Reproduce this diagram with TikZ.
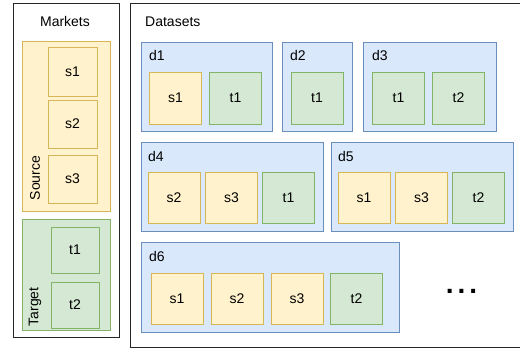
\documentclass[tikz,border=0pt]{standalone}
\usepackage{fontspec}
\setmainfont{Liberation Sans}
\definecolor{yfill}{HTML}{FFF2CC}
\definecolor{ydraw}{HTML}{D6B656}
\definecolor{gfill}{HTML}{D5E8D4}
\definecolor{gdraw}{HTML}{82B366}
\definecolor{bfill}{HTML}{DAE8FC}
\definecolor{bdraw}{HTML}{6C8EBF}
\begin{document}
\begin{tikzpicture}[x=1pt,y=-1pt,
  every node/.style={font=\fontsize{14}{16}\selectfont, inner sep=0pt},
  outerbox/.style={draw=black!85, line width=1pt, fill=white},
  srcbox/.style={draw=ydraw, fill=yfill, line width=1pt},
  tgtbox/.style={draw=gdraw, fill=gfill, line width=1pt},
  dsbox/.style={draw=bdraw, fill=bfill, line width=1pt},
  lbl/.style={anchor=west}]
\useasboundingbox (0,0) rectangle (520,348);
\clip (0,0) rectangle (520,348);
% Markets
\draw[outerbox] (13,3) rectangle (119,337);
\node (mk) at (65,21) {Markets};
\draw[srcbox] (22,41) rectangle (110,211);
\node[rotate=90] (src) at (35,178) {Source};
\node[srcbox, minimum width=49pt, minimum height=49pt] (ms1) at (72.5,71.5) {s1};
\node[srcbox, minimum width=49pt, minimum height=48pt] (ms2) at (72.5,124) {s2};
\node[srcbox, minimum width=49pt, minimum height=48pt] (ms3) at (72.5,179) {s3};
\draw[tgtbox] (22,219) rectangle (110,330);
\node[rotate=90] (tgt) at (35,307) {Target};
\node[tgtbox, minimum width=48pt, minimum height=46pt] (mt1) at (75,250) {t1};
\node[tgtbox, minimum width=48pt, minimum height=46pt] (mt2) at (75,305) {t2};
% Datasets
\draw[outerbox] (130,3) rectangle (540,347);
\node[lbl] (dsl) at (145,22) {Datasets};
% d1
\draw[dsbox] (141,42) rectangle (272,131);
\node[lbl] (d1) at (149,55) {d1};
\node[srcbox, minimum width=52pt, minimum height=52pt] (d1s1) at (175.5,98) {s1};
\node[tgtbox, minimum width=52pt, minimum height=52pt] (d1t1) at (235.5,98) {t1};
% d2
\draw[dsbox] (282,42) rectangle (352,131);
\node[lbl] (d2) at (290,55) {d2};
\node[tgtbox, minimum width=52pt, minimum height=52pt] (d2t1) at (317,98) {t1};
% d3
\draw[dsbox] (363,42) rectangle (496,131);
\node[lbl] (d3) at (372,55) {d3};
\node[tgtbox, minimum width=52pt, minimum height=52pt] (d3t1) at (398.5,98) {t1};
\node[tgtbox, minimum width=52pt, minimum height=52pt] (d3t2) at (458.5,98) {t2};
% d4
\draw[dsbox] (141,142) rectangle (323,231);
\node[lbl] (d4) at (148,156) {d4};
\node[srcbox, minimum width=52pt, minimum height=51pt] (d4s2) at (174,197.5) {s2};
\node[srcbox, minimum width=52pt, minimum height=51pt] (d4s3) at (231.5,197.5) {s3};
\node[tgtbox, minimum width=52pt, minimum height=51pt] (d4t1) at (288.5,197.5) {t1};
% d5
\draw[dsbox] (331,142) rectangle (513,231);
\node[lbl] (d5) at (338,156) {d5};
\node[srcbox, minimum width=52pt, minimum height=51pt] (d5s1) at (364,197.5) {s1};
\node[srcbox, minimum width=52pt, minimum height=51pt] (d5s3) at (421.5,197.5) {s3};
\node[tgtbox, minimum width=52pt, minimum height=51pt] (d5t2) at (478.5,197.5) {t2};
% d6
\draw[dsbox] (141,242) rectangle (399,332);
\node[lbl] (d6) at (149,256) {d6};
\node[srcbox, minimum width=52pt, minimum height=51pt] (d6s1) at (177,298.5) {s1};
\node[srcbox, minimum width=52pt, minimum height=51pt] (d6s2) at (237,298.5) {s2};
\node[srcbox, minimum width=52pt, minimum height=51pt] (d6s3) at (297,298.5) {s3};
\node[tgtbox, minimum width=52pt, minimum height=51pt] (d6t2) at (356.5,298.5) {t2};
% ellipsis
\node[font=\fontsize{28}{28}\selectfont\bfseries] (dots) at (461.5,291) {.\hspace{4pt}.\hspace{4pt}.};
\end{tikzpicture}
\end{document}
